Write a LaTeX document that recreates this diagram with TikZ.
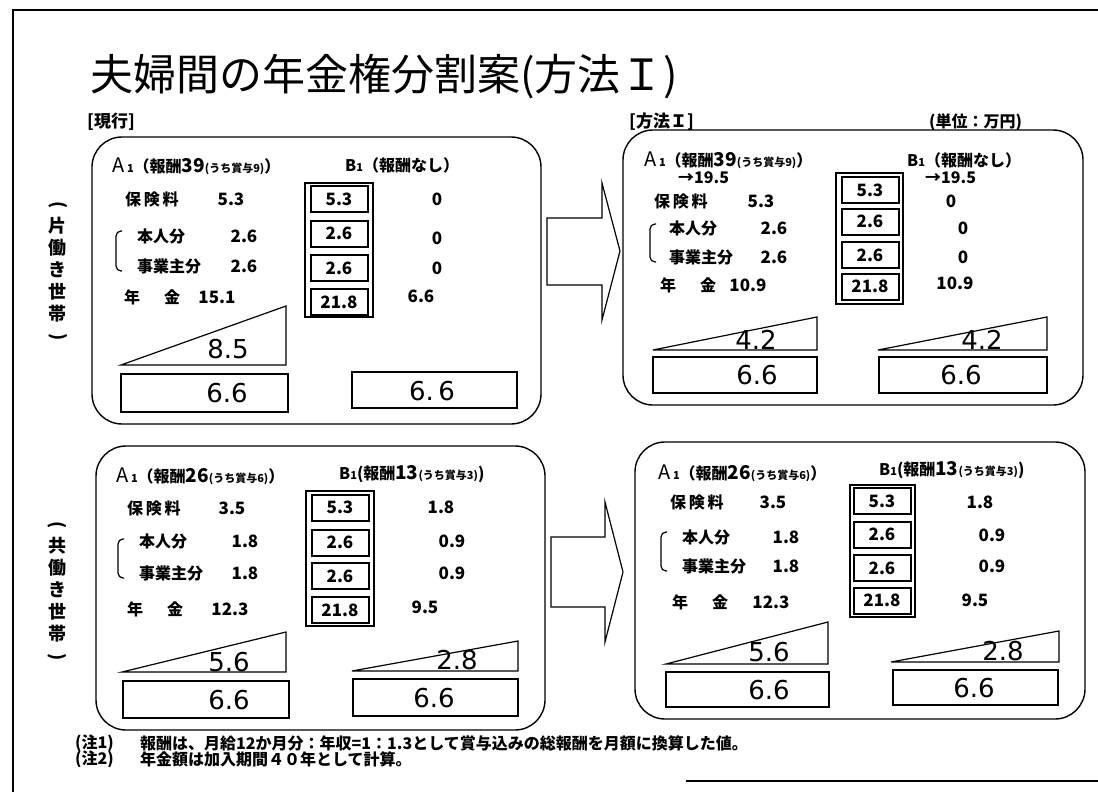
\documentclass[tikz,border=0pt]{standalone}
\usepackage{fontspec}
\usepackage{graphicx}
\newfontfamily\jp{Noto Sans CJK JP}
\newfontfamily\bignum{DejaVu Sans}
\newcommand{\sml}[1]{{\fontsize{11}{11}\selectfont #1}}
\newcommand{\lrg}[1]{{\fontsize{19}{19}\selectfont #1}}
\newcommand{\capA}{{\mdseries\fontsize{20}{20}\selectfont A}}
\newcommand{\vpar}[1]{\rotatebox[origin=c]{-90}{#1}}

\begin{document}
\begin{tikzpicture}[x=1pt,y=-1pt,
    panel/.style={line width=1.4pt,rounded corners=30pt},
    outline/.style={line width=1.2pt},
    stackbox/.style={line width=1.4pt},
    cell/.style={draw,line width=2pt,minimum width=57pt,minimum height=26pt,inner sep=0pt,
      font=\jp\bfseries\fontsize{17}{17}\selectfont},
    txt/.style={anchor=west,inner sep=0pt,font=\jp\bfseries\fontsize{16}{16}\selectfont},
    val/.style={inner sep=0pt,font=\jp\bfseries\fontsize{17}{17}\selectfont},
    big/.style={inner sep=0pt,font=\bignum\fontsize{26}{26}\selectfont},
    note/.style={anchor=west,inner sep=0pt,font=\jp\bfseries\fontsize{16}{16}\selectfont},
    vlabel/.style={inner sep=0pt,align=center,font=\jp\bfseries\fontsize{18}{22}\selectfont}]
    \useasboundingbox (0,0) rectangle (1098,792);
    \fill[white] (0,0) rectangle (1098,792);

    % Border
    \draw[line width=1.5pt] (13,792) -- (13,10) -- (1098,10);
    \draw[line width=1.2pt] (686,781) -- (1098,781);

    % Title
    \node[anchor=west,inner sep=0pt,font=\jp\fontsize{43}{43}\selectfont] (title) at (90,77)
      {夫婦間の年金権分割案(方法Ｉ)};
    \node[txt,font=\jp\bfseries\fontsize{17}{17}\selectfont] (now) at (87,122) {[現行]};
    \node[txt,font=\jp\bfseries\fontsize{17}{17}\selectfont] (meth) at (629,122) {[方法Ｉ]};
    \node[txt] (unit) at (929,122) {(単位：万円)};

    % Row labels (vertical)
    \node[vlabel] (single) at (58,272) {\vpar{(}\\片\\働\\き\\世\\帯\\\vpar{)}};
    \node[vlabel] (double) at (57,592) {\vpar{(}\\共\\働\\き\\世\\帯\\\vpar{)}};

    % Arrows between panels
    \draw[outline] (547,218) -- (602,218) -- (602,183) -- (620,251) -- (602,320)
      -- (602,285) -- (547,285) -- cycle;
    \draw[outline] (551,537) -- (605,537) -- (605,502) -- (623,572) -- (605,642)
      -- (605,607) -- (551,607) -- cycle;

    % ---- Panel 1: current, single earner
    \draw[panel] (92,137) rectangle (541,424);
    \node[txt] (a1) at (112,166) {\capA\,\sml{1}（報酬\lrg{39}\sml{(うち賞与9)}）};
    \node[txt] (b1) at (345,165) {B\sml{1}（報酬なし）};
    \node[txt] (p1r1) at (125,199) {保\,険\,料};
    \node[txt] (p1r2) at (137,236) {本人分};
    \node[txt] (p1r3) at (137,266) {事業主分};
    \node[txt] (p1r4) at (124,297) {年\hspace{24pt}金};
    \draw[outline,rounded corners=5pt] (122,231) -- (116,231) -- (116,271) -- (122,271);
    \foreach \x/\y/\v [count=\i] in {231/199/5.3, 244/236/2.6, 244/266/2.6, 217/297/15.1,
        437/199/0, 437/238/0, 437/268/0, 421/296/6.6}
      \node[val] (p1v\i) at (\x,\y) {\v};
    \draw[stackbox] (305,183) rectangle (373,317);
    \foreach \y/\v [count=\i] in {199/5.3, 233.5/2.6, 268/2.6, 302/21.8}
      \node[cell] (p1c\i) at (339,\y) {\v};
    \draw[outline] (121,365) -- (286,306) -- (286,365) -- cycle;
    \node[big] (p1t) at (228,349) {8.5};
    \draw[outline] (121,374) rectangle (288,412);
    \node[big] (p1a) at (227,393) {6.6};
    \draw[outline] (352,372) rectangle (517,408);
    \node[big] (p1b) at (432,391) {6.\,6};

    % ---- Panel 2: method I, single earner
    \draw[panel] (623,130) rectangle (1083,405);
    \node[txt] (a2) at (644,160) {\capA\,\sml{1}（報酬\lrg{39}\sml{(うち賞与9)}）};
    \node[txt] (b2) at (907,160) {B\sml{1}（報酬なし）};
    \node[txt] (a2s) at (678,178) {→19.5};
    \node[txt] (b2s) at (925,178) {→19.5};
    \node[txt] (p2r1) at (654,201) {保\,険\,料};
    \node[txt] (p2r2) at (669,228) {本人分};
    \node[txt] (p2r3) at (669,257) {事業主分};
    \node[txt] (p2r4) at (660,285) {年\hspace{24pt}金};
    \draw[outline,rounded corners=5pt] (656,224) -- (650,224) -- (650,262) -- (656,262);
    \foreach \x/\y/\v [count=\i] in {761/201/5.3, 774/228/2.6, 774/257/2.6, 748/285/10.9,
        951/201/0, 963/228/0, 963/257/0, 955/283/10.9}
      \node[val] (p2v\i) at (\x,\y) {\v};
    \draw[stackbox] (836,173) rectangle (903,304);
    \foreach \y/\v [count=\i] in {190/5.3, 221.5/2.6, 255/2.6, 286.5/21.8}
      \node[cell] (p2c\i) at (870,\y) {\v};
    \draw[outline] (653,350) -- (817,317) -- (817,350) -- cycle;
    \node[big] (p2t) at (756,340) {4.2};
    \draw[outline] (878,350) -- (1047,317) -- (1047,350) -- cycle;
    \node[big] (p2u) at (982,340) {4.2};
    \draw[outline] (653,357) rectangle (817,393);
    \node[big] (p2a) at (757,375) {6.6};
    \draw[outline] (879,357) rectangle (1047,393);
    \node[big] (p2b) at (961,375) {6.6};

    % ---- Panel 3: current, double earner
    \draw[panel] (96,446) rectangle (545,730);
    \node[txt] (a3) at (116,476) {\capA\,\sml{1}（報酬\lrg{26}\sml{(うち賞与6)}）};
    \node[txt] (b3) at (339,474) {B\sml{1}(報酬\lrg{13}\sml{(うち賞与3)})};
    \node[txt] (p3r1) at (127,508) {保\,険\,料};
    \node[txt] (p3r2) at (139,541) {本人分};
    \node[txt] (p3r3) at (139,573) {事業主分};
    \node[txt] (p3r4) at (127,609) {年\hspace{24pt}金};
    \draw[outline,rounded corners=5pt] (124,539) -- (118,539) -- (118,578) -- (124,578);
    \foreach \x/\y/\v [count=\i] in {232/508/3.5, 245/541/1.8, 245/573/1.8, 230/609/12.3,
        441/507/1.8, 452/541/0.9, 452/573/0.9, 425/607/9.5}
      \node[val] (p3v\i) at (\x,\y) {\v};
    \draw[stackbox] (306,491) rectangle (374,626);
    \foreach \y/\v [count=\i] in {507.5/5.3, 542.5/2.6, 576/2.6, 610/21.8}
      \node[cell] (p3c\i) at (340,\y) {\v};
    \draw[outline] (122,672) -- (286,632) -- (286,672) -- cycle;
    \node[big] (p3t) at (229,662) {5.6};
    \draw[outline] (352,671) -- (518,641) -- (518,671) -- cycle;
    \node[big] (p3u) at (457,660) {2.8};
    \draw[outline] (123,681) rectangle (289,718);
    \node[big] (p3a) at (229,700) {6.6};
    \draw[outline] (353,679) rectangle (518,716);
    \node[big] (p3b) at (434,698) {6.6};

    % ---- Panel 4: method I, double earner
    \draw[panel] (635,442) rectangle (1085,719);
    \node[txt] (a4) at (658,473) {\capA\,\sml{1}（報酬\lrg{26}\sml{(うち賞与6)}）};
    \node[txt] (b4) at (879,470) {B\sml{1}(報酬\lrg{13}\sml{(うち賞与3)})};
    \node[txt] (p4r1) at (670,502) {保\,険\,料};
    \node[txt] (p4r2) at (682,537) {本人分};
    \node[txt] (p4r3) at (682,566) {事業主分};
    \node[txt] (p4r4) at (672,602) {年\hspace{24pt}金};
    \draw[outline,rounded corners=5pt] (667,532) -- (661,532) -- (661,571) -- (667,571);
    \foreach \x/\y/\v [count=\i] in {773/502/3.5, 786/537/1.8, 786/566/1.8, 771/602/12.3,
        980/502/1.8, 992/535/0.9, 992/566/0.9, 975/600/9.5}
      \node[val] (p4v\i) at (\x,\y) {\v};
    \draw[stackbox] (850,485) rectangle (915,617);
    \foreach \y/\v [count=\i] in {501/5.3, 534.5/2.6, 568/2.6, 600.5/21.8}
      \node[cell] (p4c\i) at (882,\y) {\v};
    \draw[outline] (666,664) -- (828,622) -- (828,664) -- cycle;
    \node[big] (p4t) at (769,652) {5.6};
    \draw[outline] (891,662) -- (1059,631) -- (1059,662) -- cycle;
    \node[big] (p4u) at (1003,651) {2.8};
    \draw[outline] (666,672) rectangle (829,707);
    \node[big] (p4a) at (769,690) {6.6};
    \draw[outline] (893,670) rectangle (1058,705);
    \node[big] (p4b) at (974,688) {6.6};

    % Notes
    \node[note] (n1) at (75,743) {(注1)};
    \node[note] (n1t) at (140,743)
      {報酬は、月給12か月分：年収=1：1.3として賞与込みの総報酬を月額に換算した値。};
    \node[note] (n2) at (75,759) {(注2)};
    \node[note] (n2t) at (140,759) {年金額は加入期間４０年として計算。};
\end{tikzpicture}
\end{document}
